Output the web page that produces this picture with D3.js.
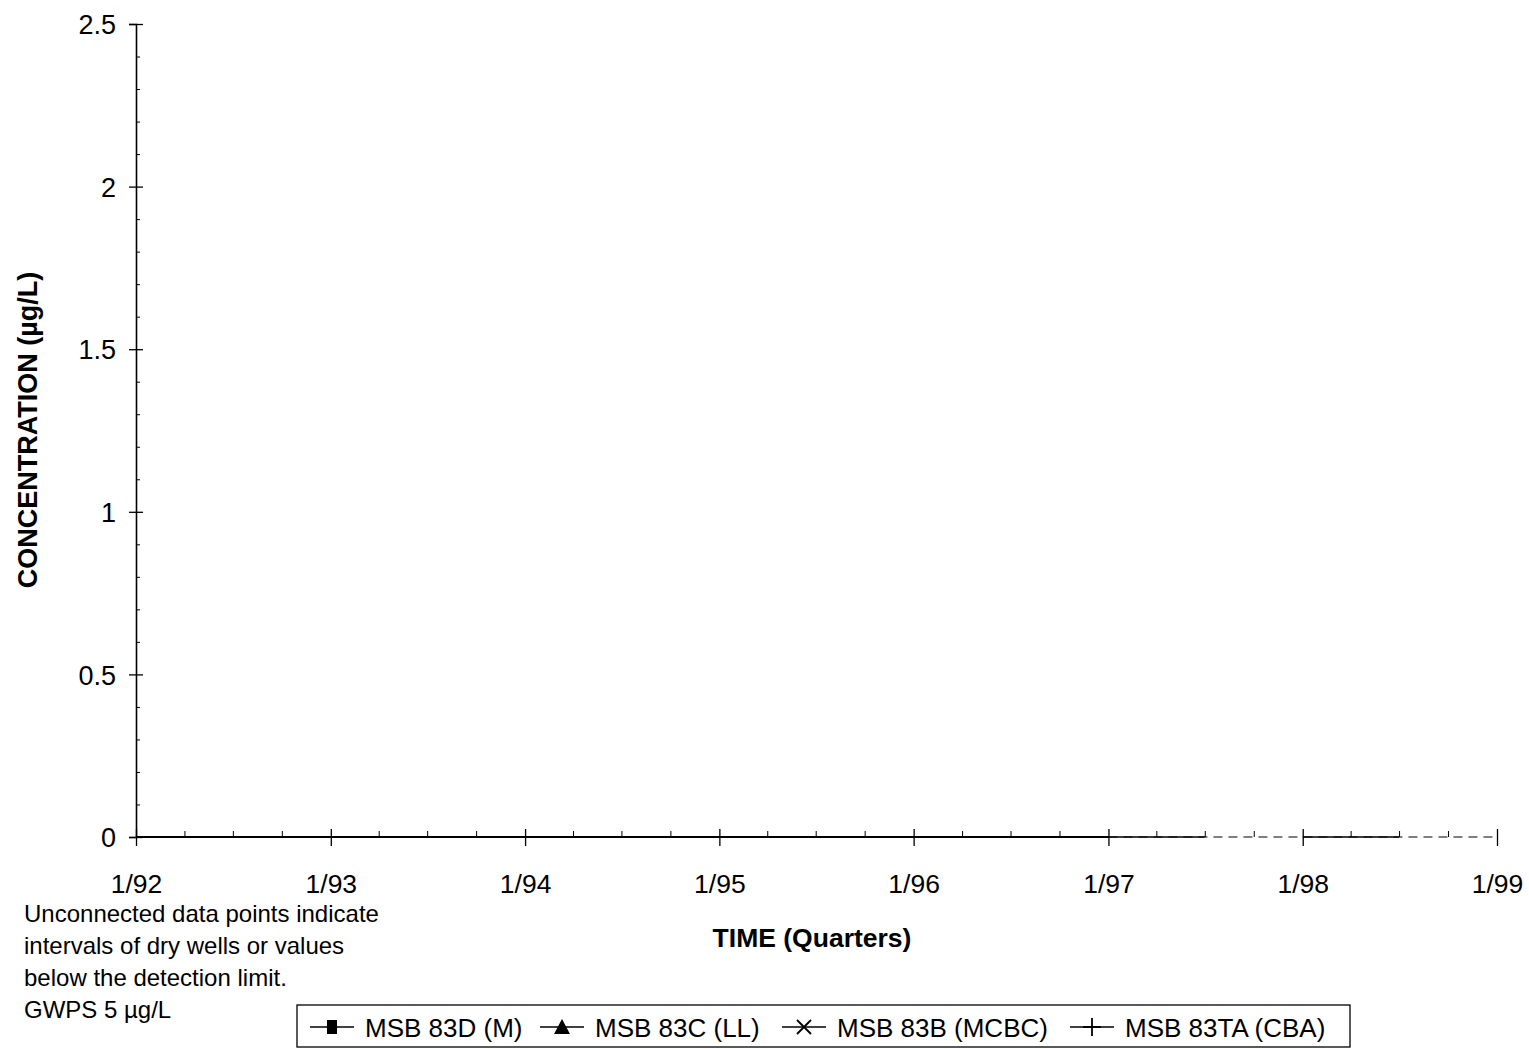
<!DOCTYPE html>
<html>
<head>
<meta charset="utf-8">
<script src="https://cdn.jsdelivr.net/npm/d3@7"></script>
<style>
  body { margin: 0; background: #fff; }
  text { font-family: "Liberation Sans", Arial, sans-serif; fill: #000; }
</style>
</head>
<body>
<script>
// quarters sampled, as printed M/YY
var quarters = ["1/92","4/92","7/92","10/92","1/93","4/93","7/93","10/93",
  "1/94","4/94","7/94","10/94","1/95","4/95","7/95","10/95",
  "1/96","4/96","7/96","10/96","1/97","4/97","7/97","10/97",
  "1/98","4/98","7/98","10/98","1/99"];

// concentrations (ug/L), null = dry well / below detection limit (unconnected)
var msb83D  = [0,0,0,0,0,0,0,0,0,0,0,0,0,0,0,0,0,0,0,0,0,0,0,null,0,0,0,null,null];
var msb83C  = [0,0,0,0,0,0,0,0,0,0,0,0,0,0,0,0,0,0,0,0,0,null,null,null,0,null,null,null,null];
var msb83B  = [0,0,0,0,0,0,0,0,0,0,0,0,0,0,0,0,0,0,0,0,0,null,null,null,null,null,null,null,null];
var msb83TA = [0,0,0,0,0,0,0,0,0,0,0,0,0,0,0,0,0,0,0,0,0,null,null,0,null,null,null,null,null];

var seriesNames = ["MSB 83D (M)", "MSB 83C (LL)", "MSB 83B (MCBC)", "MSB 83TA (CBA)"];
var seriesValues = [msb83D, msb83C, msb83B, msb83TA];
var markerTypes = ["square", "triangle", "x", "plus"];

var yMajor = [0, 0.5, 1, 1.5, 2, 2.5];
var yMinor = [0.1,0.2,0.3,0.4,0.6,0.7,0.8,0.9,1.1,1.2,1.3,1.4,1.6,1.7,1.8,1.9,2.1,2.2,2.3,2.4];
var yearTicks = ["1/92","1/93","1/94","1/95","1/96","1/97","1/98","1/99"];

var noteLines = ["Unconnected data points indicate", "intervals of dry wells or values",
  "below the detection limit.", "GWPS 5 \u00b5g/L"];

function parseQ(s) {
  var p = s.split("/");
  return new Date(1900 + (+p[1]), (+p[0]) - 1, 1);
}

var svg = d3.select("body").append("svg").attr("width", 1529).attr("height", 1049);

var x = d3.scaleTime()
  .domain([parseQ("1/92"), parseQ("1/99")])
  .range([136, 1497]);
var y = d3.scaleLinear().domain([0, 2.5]).range([837, 24]);

// y axis: majors with labels, crossing ticks
var yAxisG = svg.append("g").attr("transform", "translate(136,0)")
  .call(d3.axisLeft(y).tickValues(yMajor).tickSize(7).tickPadding(13)
    .tickFormat(function(d) { return d; }));
yAxisG.select(".domain").attr("stroke-width", 1.6);
yAxisG.selectAll(".tick line").attr("x2", -7).attr("x1", 7).attr("stroke-width", 1.3);
yAxisG.selectAll(".tick text").style("font-size", "27px").attr("dy", "0.36em");

// y minor ticks on the inside
var yMinorG = svg.append("g").attr("transform", "translate(136,0)")
  .call(d3.axisRight(y).tickValues(yMinor).tickSize(4).tickFormat(""));
yMinorG.select(".domain").remove();

// baseline at zero: solid while connected, broken afterwards
svg.append("line")
  .attr("x1", x(parseQ("1/92"))).attr("x2", x(parseQ("1/97")))
  .attr("y1", y(0)).attr("y2", y(0))
  .attr("stroke", "#000").attr("stroke-width", 1.5);
svg.append("line")
  .attr("x1", x(parseQ("1/97"))).attr("x2", x(parseQ("1/99")))
  .attr("y1", y(0)).attr("y2", y(0))
  .attr("stroke", "#000").attr("stroke-width", 1.2)
  .attr("stroke-dasharray", "9,6");

// x axis: year ticks crossing, quarterly ticks up
var xAxisG = svg.append("g").attr("transform", "translate(0," + y(0) + ")")
  .call(d3.axisBottom(x).tickValues(yearTicks.map(parseQ)).tickSize(9).tickPadding(28)
    .tickFormat(function(d) { return (d.getMonth() + 1) + "/" + d3.timeFormat("%y")(d); }));
xAxisG.select(".domain").remove();
xAxisG.selectAll(".tick line").attr("y1", -8).attr("y2", 9).attr("stroke-width", 1.3);
xAxisG.selectAll(".tick text").style("font-size", "26.5px");

var quarterTicks = quarters.map(parseQ).filter(function(d) { return d.getMonth() !== 0; });
svg.append("g").attr("transform", "translate(0," + y(0) + ")")
  .call(d3.axisTop(x).tickValues(quarterTicks).tickSize(6).tickFormat(""))
  .select(".domain").remove();

// series lines
var line = d3.line()
  .defined(function(d) { return d.v !== null; })
  .x(function(d) { return x(d.t); })
  .y(function(d) { return y(d.v); });

seriesValues.forEach(function(vals) {
  var pts = vals.map(function(v, i) { return { t: parseQ(quarters[i]), v: v }; });
  svg.append("path").datum(pts)
    .attr("d", line)
    .attr("fill", "none")
    .attr("stroke", "#000")
    .attr("stroke-width", 1.3);
});

// axis titles
svg.append("text")
  .attr("transform", "translate(37,430) rotate(-90)")
  .attr("text-anchor", "middle")
  .style("font-size", "27px").style("font-weight", "bold")
  .text("CONCENTRATION (\u00b5g/L)");

svg.append("text")
  .attr("x", 812).attr("y", 947)
  .attr("text-anchor", "middle")
  .style("font-size", "26.5px").style("font-weight", "bold")
  .text("TIME (Quarters)");

// note
noteLines.forEach(function(t, i) {
  svg.append("text")
    .attr("x", 24).attr("y", 922 + i * 32)
    .style("font-size", "24px")
    .text(t);
});

// legend
svg.append("rect")
  .attr("x", 297).attr("y", 1005).attr("width", 1053).attr("height", 42)
  .attr("fill", "none").attr("stroke", "#000").attr("stroke-width", 1.3);

var legendX = [310, 540, 782, 1070];
function drawMarker(g, type, cx, cy) {
  if (type === "square") {
    g.append("rect").attr("x", cx - 5).attr("y", cy - 7).attr("width", 10).attr("height", 14).attr("fill", "#000");
  } else if (type === "triangle") {
    g.append("path").attr("d", "M" + (cx - 8) + "," + (cy + 7) + "L" + cx + "," + (cy - 8) + "L" + (cx + 8) + "," + (cy + 7) + "Z").attr("fill", "#000");
  } else if (type === "x") {
    g.append("path").attr("d", "M" + (cx - 7) + "," + (cy - 7) + "L" + (cx + 7) + "," + (cy + 7) + "M" + (cx - 7) + "," + (cy + 7) + "L" + (cx + 7) + "," + (cy - 7))
      .attr("stroke", "#000").attr("stroke-width", 1.8);
  } else {
    g.append("path").attr("d", "M" + (cx - 9) + "," + cy + "L" + (cx + 9) + "," + cy + "M" + cx + "," + (cy - 9) + "L" + cx + "," + (cy + 9))
      .attr("stroke", "#000").attr("stroke-width", 1.8);
  }
}
seriesNames.forEach(function(name, i) {
  var g = svg.append("g");
  var lx = legendX[i], ly = 1027;
  g.append("line").attr("x1", lx).attr("x2", lx + 44).attr("y1", ly).attr("y2", ly)
    .attr("stroke", "#000").attr("stroke-width", 1.3);
  drawMarker(g, markerTypes[i], lx + 22, ly);
  g.append("text").attr("x", lx + 55).attr("y", ly + 10)
    .style("font-size", "26px").text(name);
});
</script>
</body>
</html>
